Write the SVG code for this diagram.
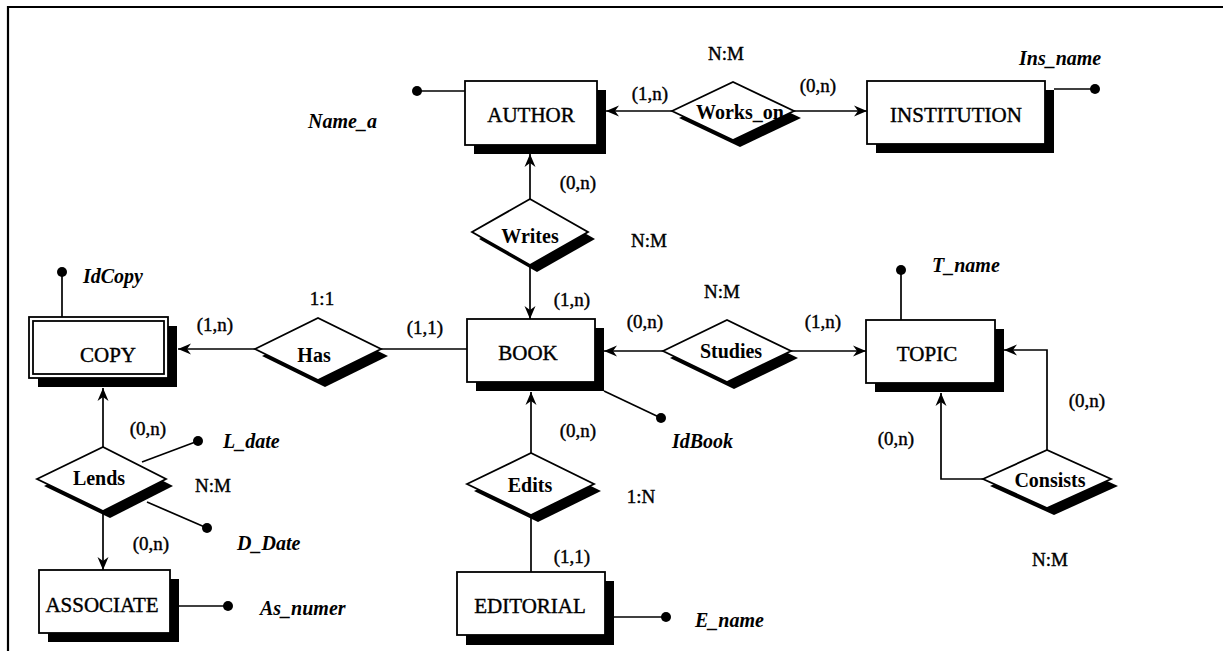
<svg xmlns="http://www.w3.org/2000/svg" width="1223" height="651" viewBox="0 0 1223 651">
<defs>
<marker id="arr" markerUnits="userSpaceOnUse" markerWidth="14" markerHeight="12" refX="13" refY="6" orient="auto">
<path d="M0,0.5 L13,6 L0,11.5 L4,6 z" fill="#000"/>
</marker>
</defs>
<style>
.ent{fill:#fff;stroke:#000;stroke-width:1.8}
.sh{fill:#000}
.rel{fill:#fff;stroke:#000;stroke-width:1.8}
.et{font-family:"Liberation Serif",serif;font-size:21px;text-anchor:middle;fill:#000;stroke:#000;stroke-width:0.4}
.rt{font-family:"Liberation Serif",serif;font-size:20px;font-weight:bold;text-anchor:middle;fill:#000}
.lb{font-family:"Liberation Serif",serif;font-size:19px;text-anchor:middle;fill:#000;stroke:#000;stroke-width:0.4}
.at{font-family:"Liberation Serif",serif;font-size:20px;font-weight:bold;font-style:italic;fill:#000}
.ln{stroke:#000;stroke-width:1.7;fill:none}
.dot{fill:#000}
</style>
<rect width="1223" height="651" fill="#fff"/>
<path d="M8,651 L8,7 L1223,7" fill="none" stroke="#000" stroke-width="2.2"/>

<g id="connectors">
<line class="ln" x1="672" y1="111" x2="606" y2="111" marker-end="url(#arr)"/>
<line class="ln" x1="794" y1="111" x2="867" y2="111" marker-end="url(#arr)"/>
<line class="ln" x1="530" y1="199" x2="530" y2="154" marker-end="url(#arr)"/>
<line class="ln" x1="530" y1="265" x2="530" y2="319" marker-end="url(#arr)"/>
<line class="ln" x1="255" y1="349" x2="178" y2="349" marker-end="url(#arr)"/>
<line class="ln" x1="381" y1="349" x2="467" y2="349"/>
<line class="ln" x1="663" y1="351" x2="604" y2="351" marker-end="url(#arr)"/>
<line class="ln" x1="791" y1="351" x2="866" y2="351" marker-end="url(#arr)"/>
<line class="ln" x1="531" y1="453" x2="531" y2="392" marker-end="url(#arr)"/>
<line class="ln" x1="531" y1="515" x2="531" y2="572"/>
<line class="ln" x1="103" y1="447" x2="103" y2="388" marker-end="url(#arr)"/>
<line class="ln" x1="103" y1="511" x2="103" y2="570" marker-end="url(#arr)"/>
<polyline class="ln" points="1047,450 1047,350 1004,350" marker-end="url(#arr)"/>
<polyline class="ln" points="983,479 941,479 941,393" marker-end="url(#arr)"/>
</g>

<g id="attributes">
<line class="ln" x1="417" y1="91" x2="465" y2="91"/><circle class="dot" cx="417" cy="91" r="5"/>
<text class="at" x="308" y="128">Name_a</text>
<line class="ln" x1="1054" y1="89" x2="1095" y2="89"/><circle class="dot" cx="1095" cy="89" r="5"/>
<text class="at" x="1019" y="65">Ins_name</text>
<line class="ln" x1="62" y1="272" x2="62" y2="317"/><circle class="dot" cx="62" cy="272" r="5"/>
<text class="at" x="83" y="283">IdCopy</text>
<line class="ln" x1="604" y1="391" x2="661" y2="418"/><circle class="dot" cx="661" cy="418" r="5"/>
<text class="at" x="672" y="448">IdBook</text>
<line class="ln" x1="901" y1="270" x2="901" y2="320"/><circle class="dot" cx="901" cy="270" r="5"/>
<text class="at" x="932" y="272">T_name</text>
<line class="ln" x1="142" y1="462" x2="198" y2="441"/><circle class="dot" cx="198" cy="441" r="5"/>
<text class="at" x="223" y="448">L_date</text>
<line class="ln" x1="147" y1="502" x2="207" y2="528"/><circle class="dot" cx="207" cy="528" r="5"/>
<text class="at" x="237" y="550">D_Date</text>
<line class="ln" x1="179" y1="606" x2="228" y2="606"/><circle class="dot" cx="228" cy="606" r="5"/>
<text class="at" x="260" y="615">As_numer</text>
<line class="ln" x1="614" y1="617" x2="666" y2="617"/><circle class="dot" cx="666" cy="617" r="5"/>
<text class="at" x="695" y="627">E_name</text>
</g>

<g id="AUTHOR">
<rect class="sh" x="474" y="90" width="132" height="64"/>
<rect class="ent" x="465" y="81" width="132" height="64"/>
<text class="et" x="531" y="122">AUTHOR</text>
</g>
<g id="INSTITUTION">
<rect class="sh" x="876" y="90" width="178" height="63"/>
<rect class="ent" x="867" y="81" width="178" height="63"/>
<text class="et" x="956" y="122">INSTITUTION</text>
</g>
<g id="COPY">
<rect class="sh" x="38" y="326" width="139" height="61"/>
<rect class="ent" x="29" y="317" width="139" height="61"/>
<rect class="ent" x="33" y="321" width="131" height="53"/>
<text class="et" x="108" y="362">COPY</text>
</g>
<g id="BOOK">
<rect class="sh" x="476" y="328" width="128" height="63"/>
<rect class="ent" x="467" y="319" width="128" height="63"/>
<text class="et" x="528" y="360">BOOK</text>
</g>
<g id="TOPIC">
<rect class="sh" x="875" y="329" width="129" height="63"/>
<rect class="ent" x="866" y="320" width="129" height="63"/>
<text class="et" x="927" y="361">TOPIC</text>
</g>
<g id="ASSOCIATE">
<rect class="sh" x="48" y="579" width="131" height="63"/>
<rect class="ent" x="39" y="570" width="131" height="63"/>
<text class="et" x="102" y="612">ASSOCIATE</text>
</g>
<g id="EDITORIAL">
<rect class="sh" x="466" y="581" width="148" height="64"/>
<rect class="ent" x="457" y="572" width="148" height="63"/>
<text class="et" x="530" y="613">EDITORIAL</text>
</g>

<g id="Works_on">
<polygon class="sh" points="679,118 740,89 801,118 740,147"/>
<polygon class="rel" points="672,111 733,82 794,111 733,140"/>
<text class="rt" x="740" y="119" font-size="19">Works_on</text>
</g>
<g id="Writes">
<polygon class="sh" points="479,239 537,206 595,239 537,272"/>
<polygon class="rel" points="472,232 530,199 588,232 530,265"/>
<text class="rt" x="530" y="243">Writes</text>
</g>
<g id="Has">
<polygon class="sh" points="262,356 325,325 388,356 325,387"/>
<polygon class="rel" points="255,349 318,318 381,349 318,380"/>
<text class="rt" x="314" y="362">Has</text>
</g>
<g id="Studies">
<polygon class="sh" points="670,358 734,327 798,358 734,389"/>
<polygon class="rel" points="663,351 727,320 791,351 727,382"/>
<text class="rt" x="731" y="358">Studies</text>
</g>
<g id="Edits">
<polygon class="sh" points="474,491 538,460 601,491 538,522"/>
<polygon class="rel" points="467,484 531,453 594,484 531,515"/>
<text class="rt" x="530" y="492">Edits</text>
</g>
<g id="Lends">
<polygon class="sh" points="44,486 110,454 173,486 110,518"/>
<polygon class="rel" points="37,479 103,447 166,479 103,511"/>
<text class="rt" x="99" y="485">Lends</text>
</g>
<g id="Consists">
<polygon class="sh" points="990,486 1054,457 1118,486 1054,515"/>
<polygon class="rel" points="983,479 1047,450 1111,479 1047,508"/>
<text class="rt" x="1050" y="487">Consists</text>
</g>

<g id="labels">
<text class="lb" x="726" y="60">N:M</text>
<text class="lb" x="650" y="100">(1,n)</text>
<text class="lb" x="818" y="92">(0,n)</text>
<text class="lb" x="578" y="189">(0,n)</text>
<text class="lb" x="649" y="247">N:M</text>
<text class="lb" x="572" y="306">(1,n)</text>
<text class="lb" x="722" y="298">N:M</text>
<text class="lb" x="645" y="328">(0,n)</text>
<text class="lb" x="823" y="328">(1,n)</text>
<text class="lb" x="322" y="305">1:1</text>
<text class="lb" x="215" y="331">(1,n)</text>
<text class="lb" x="425" y="334">(1,1)</text>
<text class="lb" x="148" y="435">(0,n)</text>
<text class="lb" x="213" y="492">N:M</text>
<text class="lb" x="151" y="550">(0,n)</text>
<text class="lb" x="578" y="437">(0,n)</text>
<text class="lb" x="641" y="503">1:N</text>
<text class="lb" x="572" y="563">(1,1)</text>
<text class="lb" x="1087" y="407">(0,n)</text>
<text class="lb" x="896" y="445">(0,n)</text>
<text class="lb" x="1050" y="566">N:M</text>
</g>
</svg>
